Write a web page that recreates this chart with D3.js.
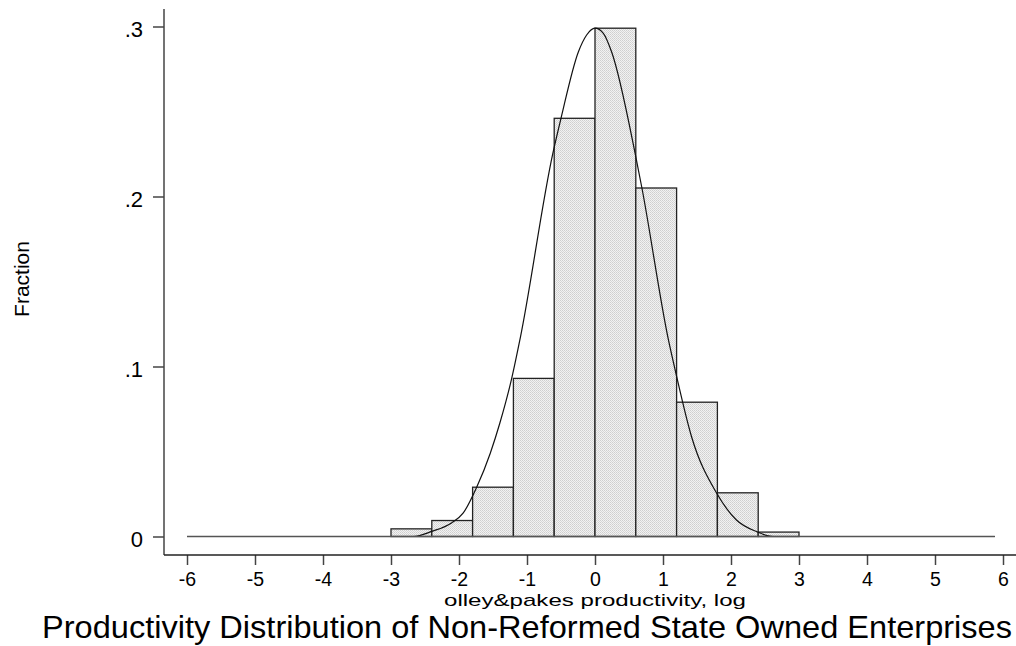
<!DOCTYPE html>
<html>
<head>
<meta charset="utf-8">
<script src="https://cdn.jsdelivr.net/npm/d3@7"></script>
<style>
  body { margin: 0; background: #fff; }
  text { font-family: "Liberation Sans", Arial, sans-serif; fill: #000; }
</style>
</head>
<body>
<div id="chart"></div>
<script>
'use strict'
// histogram bins (width 0.6) and fraction per bin
let binStarts = [-3, -2.4, -1.8, -1.2, -0.6, 0, 0.6, 1.2, 1.8, 2.4]
let binWidth = 0.6
let fractions = [0.0045, 0.0094, 0.029, 0.093, 0.246, 0.299, 0.205, 0.079, 0.0257, 0.0026]

// normal overlay, points
let curveX = [-6, -2.67, -2.4, -2.11, -1.94, -1.74, -1.54, -1.4, -1.225, -1.1, -0.62, -0.5, -0.245, -0.123, 0,
              0.123, 0.245, 0.59, 0.69, 1.08, 1.19, 1.42, 1.79, 2.08, 2.38, 2.62, 5.88]
let curveY = [0, 0, 0.003, 0.008, 0.0137, 0.029, 0.049, 0.0666, 0.093, 0.1166, 0.2254, 0.246, 0.285, 0.295, 0.299,
              0.296, 0.285, 0.2254, 0.205, 0.1156, 0.096, 0.0587, 0.0254, 0.0097, 0.0028, 0, 0]

let xTicks = [-6, -5, -4, -3, -2, -1, 0, 1, 2, 3, 4, 5, 6]
let yTicks = [0, 0.1, 0.2, 0.3]
let yTickLabels = ['0', '.1', '.2', '.3']

let width = 1016
let height = 646

let svg = d3.select('#chart').append('svg')
  .attr('width', width)
  .attr('height', height)

// stipple fill like the stata bars
let defs = svg.append('defs')
let pat = defs.append('pattern')
  .attr('id', 'dots')
  .attr('width', 2).attr('height', 2)
  .attr('patternUnits', 'userSpaceOnUse')
pat.append('rect').attr('width', 2).attr('height', 2).attr('fill', '#f2f2f2')
pat.append('rect').attr('width', 1).attr('height', 1).attr('fill', '#cfcfcf')
pat.append('rect').attr('x', 1).attr('y', 1).attr('width', 1).attr('height', 1).attr('fill', '#d8d8d8')

let x = d3.scaleLinear().domain([-6, 6]).range([187, 1003])
let y = d3.scaleLinear().domain([0, 0.3]).range([536.5, 26.5])

let axisLeftX = 164
let axisBottomY = 555

// bars
svg.selectAll('.bar')
  .data(binStarts)
  .enter()
  .append('rect')
  .attr('class', 'bar')
  .attr('x', d => x(d))
  .attr('width', x(binWidth) - x(0))
  .attr('y', (d, i) => y(fractions[i]))
  .attr('height', (d, i) => y(0) - y(fractions[i]))
  .attr('fill', 'url(#dots)')
  .attr('stroke', '#222')
  .attr('stroke-width', 1.3)

// normal curve
let pts = curveX.map((d, i) => [d, curveY[i]])
let line = d3.line()
  .x(d => x(d[0]))
  .y(d => y(d[1]))
  .curve(d3.curveMonotoneX)
svg.append('path')
  .datum(pts)
  .attr('d', line)
  .attr('fill', 'none')
  .attr('stroke', '#111')
  .attr('stroke-width', 1.2)
// flat part of the overlay reads grey in the original
svg.append('line')
  .attr('x1', x(-6)).attr('x2', x(5.88))
  .attr('y1', y(0)).attr('y2', y(0))
  .attr('stroke', '#555').attr('stroke-width', 1.5)

// y axis
let yAxis = d3.axisLeft(y)
  .tickValues(yTicks)
  .tickFormat((d, i) => yTickLabels[i])
  .tickSize(11)
  .tickPadding(10)
  .tickSizeOuter(0)
let gy = svg.append('g')
  .attr('transform', 'translate(' + axisLeftX + ',0)')
  .call(yAxis)
gy.select('.domain').remove()
gy.selectAll('.tick line').attr('stroke', '#444').attr('stroke-width', 1.5)
gy.selectAll('.tick text')
  .attr('font-size', 22)
  .attr('dy', '0.45em')
  .style('font-family', '"Liberation Sans", Arial, sans-serif')
svg.append('line')
  .attr('x1', axisLeftX).attr('x2', axisLeftX)
  .attr('y1', 9).attr('y2', axisBottomY)
  .attr('stroke', '#444').attr('stroke-width', 1.5)

// x axis
let xAxis = d3.axisBottom(x)
  .tickValues(xTicks)
  .tickFormat(d => String(d))
  .tickSize(10)
  .tickPadding(7)
  .tickSizeOuter(0)
let gx = svg.append('g')
  .attr('transform', 'translate(0,' + axisBottomY + ')')
  .call(xAxis)
gx.select('.domain').remove()
gx.selectAll('.tick line').attr('stroke', '#444').attr('stroke-width', 1.5)
gx.selectAll('.tick text')
  .attr('font-size', 19.5)
  .style('font-family', '"Liberation Sans", Arial, sans-serif')
svg.append('line')
  .attr('x1', axisLeftX).attr('x2', width)
  .attr('y1', axisBottomY).attr('y2', axisBottomY)
  .attr('stroke', '#222').attr('stroke-width', 1.5)

// titles
svg.append('text')
  .attr('text-anchor', 'middle')
  .attr('transform', 'translate(' + 29 + ',' + 279 + ')rotate(-90)')
  .attr('font-size', 21)
  .text('Fraction')

svg.append('text')
  .attr('text-anchor', 'middle')
  .attr('x', 595)
  .attr('y', 606)
  .attr('font-size', 17)
  .attr('textLength', 302)
  .attr('lengthAdjust', 'spacingAndGlyphs')
  .text('olley&pakes productivity, log')

svg.append('text')
  .attr('text-anchor', 'middle')
  .attr('x', 527)
  .attr('y', 638)
  .attr('font-size', 31.5)
  .attr('textLength', 970)
  .attr('lengthAdjust', 'spacingAndGlyphs')
  .text('Productivity Distribution of Non-Reformed State Owned Enterprises')
</script>
</body>
</html>
